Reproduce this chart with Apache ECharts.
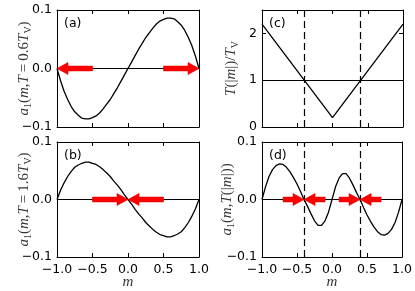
<!DOCTYPE html>
<html><head><meta charset="utf-8">
<script src="https://cdn.jsdelivr.net/npm/echarts@6/dist/echarts.min.js"></script>
<style>html,body{margin:0;padding:0;background:#fff}#c{width:415px;height:291px}</style>
</head><body><div id="c"></div>
<script>
// ---- data ----
const mGrid = [-1.00,-0.95,-0.90,-0.85,-0.80,-0.75,-0.70,-0.65,-0.60,-0.55,-0.50,-0.45,-0.40,-0.35,-0.30,-0.25,-0.20,-0.15,-0.10,-0.05,0.00,0.05,0.10,0.15,0.20,0.25,0.30,0.35,0.40,0.45,0.50,0.55,0.60,0.65,0.70,0.75,0.80,0.85,0.90,0.95,1.00];
// (a) a1(m, T=0.6 Tv)
const a06 = [0,-0.021,-0.039,-0.053,-0.065,-0.074,-0.080,-0.085,-0.086,-0.086,-0.084,-0.081,-0.076,-0.069,-0.061,-0.053,-0.043,-0.033,-0.022,-0.011,0,0.011,0.022,0.033,0.043,0.053,0.061,0.069,0.076,0.081,0.084,0.086,0.086,0.085,0.080,0.074,0.065,0.053,0.039,0.021,0];
// (b) a1(m, T=1.6 Tv)
const a16 = [0,0.016,0.029,0.040,0.049,0.056,0.060,0.063,0.065,0.065,0.063,0.061,0.057,0.052,0.046,0.040,0.032,0.025,0.017,0.008,0,-0.008,-0.017,-0.025,-0.032,-0.040,-0.046,-0.052,-0.057,-0.061,-0.063,-0.065,-0.065,-0.063,-0.060,-0.056,-0.049,-0.040,-0.029,-0.016,0];
// (d) a1(m, T(|m|))
const aT = [0,0.022,0.040,0.052,0.059,0.062,0.061,0.056,0.048,0.038,0.027,0.014,0,-0.012,-0.025,-0.037,-0.045,-0.045,-0.037,-0.022,0,0.022,0.037,0.045,0.045,0.037,0.025,0.012,0,-0.014,-0.027,-0.038,-0.048,-0.056,-0.061,-0.062,-0.059,-0.052,-0.040,-0.022,0];
// (c) T(|m|)/Tv
const tM = [-1, 0, 1];
const tVal = [2.2, 0.2, 2.2];
// critical magnetisations (dashed lines)
const mStar = [-0.4, 0.4];
// arrows: [tail m, tip m]
const arrowsA = [[-0.5,-1.0],[0.5,1.0]];
const arrowsB = [[-0.5,0],[0.5,0]];
const arrowsD = [[-0.7,-0.4],[-0.1,-0.4],[0.1,0.4],[0.7,0.4]];
const panelLabels = ['(a)','(b)','(c)','(d)'];

// ---- chart ----
const SANS = 'DejaVu Sans';
const SERIF = 'Liberation Serif';
const minus = s => s.replace('-', '\u2212');
const fmt1 = v => minus(Math.abs(v) < 1e-9 ? '0.0' : v.toFixed(1));
const fmt0 = v => minus(String(Math.round(v)));

const grids = [
  {left:57, top:10, width:142, height:117},
  {left:57, top:142, width:142, height:116},
  {left:262, top:10, width:141, height:117},
  {left:262, top:142, width:141, height:116}
];

const lineAx = {show:true, onZero:false, lineStyle:{color:'#000', width:1}};
const tickAx = {show:true, inside:true, length:4, lineStyle:{color:'#000', width:1}};
const lblStyle = {fontFamily:SANS, fontSize:12.5, color:'#000'};

const xAxis = [], yAxis = [];
for (let g = 0; g < 4; g++) {
  const bottomRow = (g === 1 || g === 3);
  const xb = {gridIndex:g, type:'value', position:'bottom', min:-1, max:1, interval:0.5,
    axisLine:lineAx, axisTick:tickAx, splitLine:{show:false},
    axisLabel: Object.assign({show:bottomRow, margin:6, formatter:fmt1}, lblStyle)};
  if (bottomRow) {
    xb.name = 'm'; xb.nameLocation = 'middle'; xb.nameGap = 18; xb.nameMoveOverlap = false;
    xb.nameTextStyle = {fontFamily:SERIF, fontStyle:'italic', fontSize:15, color:'#333'};
  }
  xAxis.push(xb);
  xAxis.push({gridIndex:g, type:'value', position:'top', min:-1, max:1, interval:0.5,
    axisLine:lineAx, axisTick:tickAx, splitLine:{show:false}, axisLabel:{show:false}});
  const isT = (g === 2);
  const yl = {gridIndex:g, type:'value', position:'left',
    min: isT ? 0 : -0.1, max: isT ? 2.5 : 0.1, interval: isT ? 1 : 0.1,
    axisLine:lineAx, axisTick:tickAx, splitLine:{show:false},
    axisLabel: Object.assign({show:true, margin:5, showMaxLabel: !isT, formatter: isT ? fmt0 : fmt1}, lblStyle),
    nameLocation:'middle', nameRotate:90, nameMoveOverlap:false
  };
  yAxis.push(yl);
  yAxis.push({gridIndex:g, type:'value', position:'right',
    min: yl.min, max: yl.max, interval: yl.interval,
    axisLine:lineAx, axisTick:tickAx, splitLine:{show:false}, axisLabel:{show:false}});
}

const rich = {
  i:{fontFamily:SERIF, fontStyle:'italic', fontSize:15, color:'#333', lineHeight:18},
  n:{fontFamily:SERIF, fontSize:15, color:'#333', lineHeight:18},
  s:{fontFamily:SERIF, fontSize:10, color:'#333', lineHeight:10, verticalAlign:'bottom'}
};
const nameTS = {fontFamily:SERIF, fontSize:15, color:'#333', rich:rich};
const eq = '\u2009=\u2009';
yAxis[0].name = '{i|a}{s|1}{n|(}{i|m}{n|,}{i|T}{n|' + eq + '0.6}{i|T}{s|V}{n|)}';
yAxis[0].nameGap = 24; yAxis[0].nameTextStyle = nameTS;
yAxis[2].name = '{i|a}{s|1}{n|(}{i|m}{n|,}{i|T}{n|' + eq + '1.6}{i|T}{s|V}{n|)}';
yAxis[2].nameGap = 24; yAxis[2].nameTextStyle = nameTS;
yAxis[4].name = '{i|T}{n|(|}{i|m}{n||)/}{i|T}{s|V}';
yAxis[4].nameGap = 22; yAxis[4].nameTextStyle = nameTS;
yAxis[6].name = '{i|a}{s|1}{n|(}{i|m}{n|,}{i|T}{n|(|}{i|m}{n||))}';
yAxis[6].nameGap = 26; yAxis[6].nameTextStyle = nameTS;

const curveStyle = {color:'#000', width:1.3};
function curve(g, xs, ys, marks) {
  return {type:'line', xAxisIndex:2*g, yAxisIndex:2*g, data: xs.map((x,i)=>[x, ys[i]]),
    symbol:'none', lineStyle:curveStyle, z:3, animation:false,
    markLine:{silent:true, symbol:['none','none'], label:{show:false}, animation:false, data:marks}};
}
const solidH = v => ({yAxis:v, lineStyle:{color:'#000', width:1, type:'solid'}});
const dashedV = v => ({xAxis:v, lineStyle:{color:'#000', width:1.2, type:[7,4]}});

function arrowSeries(g, arr) {
  return {type:'custom', xAxisIndex:2*g, yAxisIndex:2*g, z:5, animation:false, silent:true,
    data: arr.map(a => [a[0], a[1], 0]),
    renderItem: function(params, api) {
      const p0 = api.coord([api.value(0), api.value(2)]);
      const p1 = api.coord([api.value(1), api.value(2)]);
      const dir = Math.sign(p1[0] - p0[0]);
      const hl = 11, hw = 6, sw = 2.4, y = p0[1];
      const xb = p1[0] - dir*hl;
      return {type:'polygon', shape:{points:[[p0[0],y-sw],[xb,y-sw],[xb,y-hw],[p1[0],y],[xb,y+hw],[xb,y+sw],[p0[0],y+sw]]},
        style:{fill:'#ff0000', stroke:'#e80000', lineWidth:0.6}};
    }};
}

const series = [
  curve(0, mGrid, a06, [solidH(0)]),
  arrowSeries(0, arrowsA),
  curve(1, mGrid, a16, [solidH(0)]),
  arrowSeries(1, arrowsB),
  curve(2, tM, tVal, [solidH(1), dashedV(mStar[0]), dashedV(mStar[1])]),
  curve(3, mGrid, aT, [solidH(0), dashedV(mStar[0]), dashedV(mStar[1])]),
  arrowSeries(3, arrowsD)
];

const graphic = grids.map((gr, k) => ({type:'text', left: gr.left + 7, top: gr.top + 7, z:10,
  style:{text: panelLabels[k], font: '12.5px "DejaVu Sans"', fill:'#000'}}));

const chart = echarts.init(document.getElementById('c'), null, {renderer:'canvas'});
chart.setOption({animation:false, backgroundColor:'#fff', grid:grids, xAxis, yAxis, series, graphic});
</script>
</body></html>
